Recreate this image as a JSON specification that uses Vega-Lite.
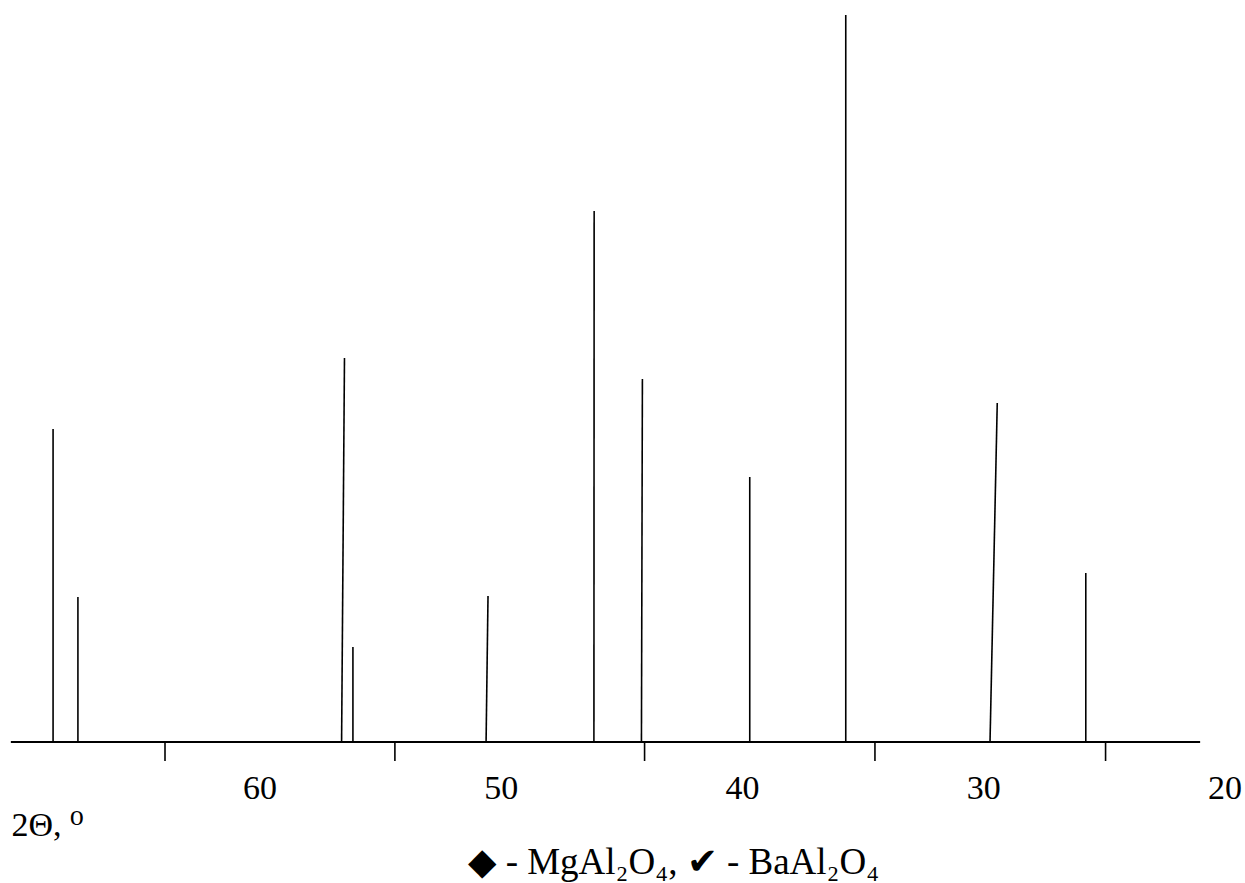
{
  "$schema": "https://vega.github.io/schema/vega-lite/v6.json",
  "width": 1245,
  "height": 742,
  "autosize": {"type": "none"},
  "padding": {"left": 0, "top": 0, "right": 0, "bottom": 141},
  "background": "white",
  "config": {"view": {"stroke": null}, "font": "Liberation Serif"},
  "datasets": {
    "peaks": [
      {"angle": 68.56, "angle2": 68.56, "base": 0, "intensity": 43.05},
      {"angle": 67.53, "angle2": 67.53, "base": 0, "intensity": 19.94},
      {"angle": 56.60, "angle2": 56.48, "base": 0, "intensity": 52.82},
      {"angle": 56.13, "angle2": 56.13, "base": 0, "intensity": 13.07},
      {"angle": 50.61, "angle2": 50.53, "base": 0, "intensity": 20.08},
      {"angle": 46.14, "angle2": 46.13, "base": 0, "intensity": 73.04},
      {"angle": 44.17, "angle2": 44.13, "base": 0, "intensity": 49.93},
      {"angle": 39.68, "angle2": 39.68, "base": 0, "intensity": 36.45},
      {"angle": 35.70, "angle2": 35.70, "base": 0, "intensity": 100},
      {"angle": 29.72, "angle2": 29.42, "base": 0, "intensity": 46.63},
      {"angle": 25.75, "angle2": 25.75, "base": 0, "intensity": 23.25}
    ],
    "ticks": [
      {"angle": 63.92, "base": 0, "low": -2.61},
      {"angle": 54.39, "base": 0, "low": -2.61},
      {"angle": 44.04, "base": 0, "low": -2.61},
      {"angle": 34.49, "base": 0, "low": -2.61},
      {"angle": 24.93, "base": 0, "low": -2.61}
    ],
    "baseline": [
      {"angle": 70.31, "angle2": 21.01, "base": 0}
    ]
  },
  "title": {
    "text": "◆ - MgAl₂O₄, ✔ - BaAl₂O₄",
    "orient": "bottom",
    "anchor": "middle",
    "frame": "group",
    "dx": 51,
    "offset": 3,
    "font": "'Liberation Serif', 'DejaVu Serif', serif",
    "fontSize": 37,
    "fontWeight": "normal",
    "color": "black"
  },
  "layer": [
    {
      "data": {"name": "baseline"},
      "mark": {"type": "rule", "color": "black", "strokeWidth": 2},
      "encoding": {
        "x": {
          "field": "angle",
          "type": "quantitative",
          "scale": {"domain": [70.76, 19.15], "nice": false, "zero": false},
          "axis": {
            "values": [60, 50, 40, 30, 20],
            "format": "d",
            "ticks": false,
            "domain": false,
            "grid": false,
            "labelFont": "Liberation Serif",
            "labelFontSize": 34,
            "labelColor": "black",
            "labelPadding": 29,
            "labelFlush": false,
            "labelOverlap": false,
            "labelBound": false,
            "title": "2Θ, ⁰",
            "titleFont": "'Liberation Serif', 'DejaVu Serif', serif",
            "titleFontSize": 34,
            "titleFontWeight": "normal",
            "titleColor": "black",
            "titleAnchor": "start",
            "titleAlign": "left",
            "titleBaseline": "alphabetic",
            "titleX": 11,
            "titleY": 93
          }
        },
        "x2": {"field": "angle2"},
        "y": {"field": "base", "type": "quantitative", "scale": {"domain": [0, 102.063], "nice": false, "zero": false}, "axis": null}
      }
    },
    {
      "data": {"name": "ticks"},
      "mark": {"type": "rule", "color": "black", "strokeWidth": 1.6},
      "encoding": {
        "x": {"field": "angle", "type": "quantitative", "axis": {"title": "2Θ, ⁰"}},
        "y": {"field": "base", "type": "quantitative", "axis": null},
        "y2": {"field": "low"}
      }
    },
    {
      "data": {"name": "peaks"},
      "mark": {"type": "rule", "color": "black", "strokeWidth": 1.6},
      "encoding": {
        "x": {"field": "angle", "type": "quantitative", "axis": {"title": "2Θ, ⁰"}},
        "x2": {"field": "angle2"},
        "y": {"field": "base", "type": "quantitative", "axis": null},
        "y2": {"field": "intensity"}
      }
    }
  ]
}
